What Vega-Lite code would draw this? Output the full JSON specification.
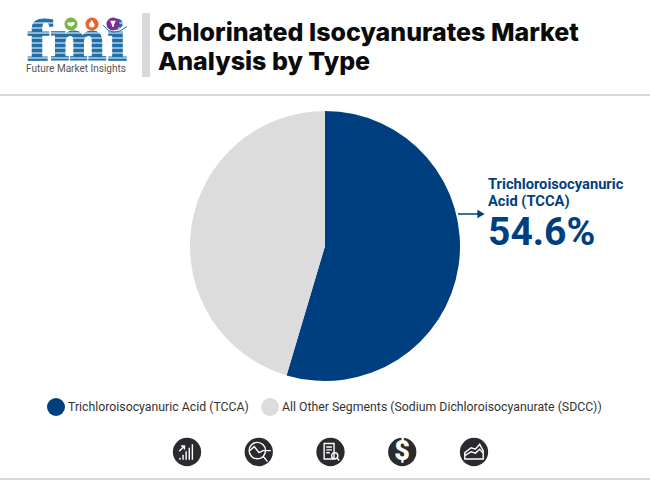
{
  "$schema": "https://vega.github.io/schema/vega-lite/v6.json",
  "width": 650,
  "height": 300,
  "autosize": "none",
  "padding": {"top": 96, "bottom": 84, "left": 0, "right": 0},
  "background": "white",
  "view": {"stroke": null},
  "title": {
    "text": ["Chlorinated Isocyanurates Market", "Analysis by Type"],
    "anchor": "start",
    "frame": "group",
    "dx": 158,
    "offset": -77.5,
    "font": "Inter",
    "fontSize": 25,
    "fontWeight": 800,
    "lineHeight": 29,
    "color": "#0b0b0b"
  },
  "datasets": {
    "segments": [
      {"segment": "Trichloroisocyanuric Acid (TCCA)", "share": 54.6},
      {"segment": "All Other Segments (Sodium Dichloroisocyanurate (SDCC))", "share": 45.4}
    ],
    "callout": [
      {"line": "name1", "text": "Trichloroisocyanuric"},
      {"line": "name2", "text": "Acid (TCCA)"}
    ],
    "callout_value": [{"line": "value", "text": "54.6%"}],
    "arrow": [{"end": "pie", "row": "arrow"}, {"end": "head", "row": "arrow"}],
    "rules": [{"rule": "top"}, {"rule": "bottom"}],
    "divider": [{"end": "a", "col": "bar"}, {"end": "b", "col": "bar"}],
    "logo_dots": [{"dot": "green"}, {"dot": "orange"}, {"dot": "purple"}],
    "logo_stripes": [{"s": "1"}, {"s": "2"}, {"s": "3"}, {"s": "4"}, {"s": "5"}, {"s": "6"}, {"s": "7"}, {"s": "8"}],
    "icons": [{"icon": "growth"}, {"icon": "scan"}, {"icon": "report"}, {"icon": "dollar"}, {"icon": "area"}]
  },
  "data": {"name": "segments"},
  "resolve": {"scale": {"x": "independent", "y": "independent", "color": "independent", "shape": "independent"}},
  "layer": [
    {
      "mark": {"type": "arc", "outerRadius": 135},
      "encoding": {
        "theta": {"field": "share", "type": "quantitative", "stack": true},
        "order": {"field": "share", "sort": "descending"},
        "color": {
          "field": "segment",
          "type": "nominal",
          "scale": {
            "domain": ["Trichloroisocyanuric Acid (TCCA)", "All Other Segments (Sodium Dichloroisocyanurate (SDCC))"],
            "range": ["#003f7f", "#dcdcdc"]
          },
          "legend": {
            "orient": "none",
            "legendX": 47,
            "legendY": 302,
            "direction": "horizontal",
            "title": null,
            "symbolType": "circle",
            "symbolSize": 324,
            "symbolStrokeWidth": 0,
            "labelFont": "Roboto",
            "labelFontSize": 12.3,
            "labelColor": "#333333",
            "labelLimit": 400,
            "columnPadding": 12,
            "labelOffset": 3
          }
        }
      }
    },
    {
      "data": {"name": "callout"},
      "mark": {"type": "text", "align": "left", "font": "Roboto", "fontSize": 14.7, "fontWeight": 700, "color": "#003f7f"},
      "encoding": {
        "x": {"datum": "callout", "type": "nominal", "scale": {"domain": ["callout"], "range": [488, 488], "padding": 0}, "axis": null},
        "y": {"field": "line", "type": "nominal", "scale": {"domain": ["name1", "name2"], "range": [89, 106], "padding": 0}, "axis": null},
        "text": {"field": "text"}
      }
    },
    {
      "data": {"name": "callout_value"},
      "mark": {"type": "text", "align": "left", "font": "Roboto", "fontSize": 39, "fontWeight": 700, "color": "#003f7f"},
      "encoding": {
        "x": {"datum": "callout", "type": "nominal", "scale": {"domain": ["callout"], "range": [488, 488], "padding": 0}, "axis": null},
        "y": {"field": "line", "type": "nominal", "scale": {"domain": ["value"], "range": [137, 137], "padding": 0}, "axis": null},
        "text": {"field": "text"}
      }
    },
    {
      "data": {"name": "arrow"},
      "mark": {"type": "line", "color": "#003f7f", "strokeWidth": 1.5},
      "encoding": {
        "x": {"field": "end", "type": "nominal", "scale": {"domain": ["pie", "head"], "range": [458, 480], "padding": 0}, "axis": null},
        "y": {"field": "row", "type": "nominal", "scale": {"domain": ["arrow"], "range": [118, 118], "padding": 0}, "axis": null}
      }
    },
    {
      "data": {"name": "arrow"},
      "transform": [{"filter": "datum.end === 'head'"}],
      "mark": {"type": "point", "shape": "triangle-right", "filled": true, "size": 70, "color": "#003f7f", "opacity": 1},
      "encoding": {
        "x": {"field": "end", "type": "nominal", "scale": {"domain": ["head"], "range": [481, 481], "padding": 0}, "axis": null},
        "y": {"field": "row", "type": "nominal", "scale": {"domain": ["arrow"], "range": [118, 118], "padding": 0}, "axis": null}
      }
    },
    {
      "data": {"name": "rules"},
      "mark": {"type": "rule", "color": "#d9d9d9", "strokeWidth": 2},
      "encoding": {
        "y": {"field": "rule", "type": "nominal", "scale": {"type": "point", "domain": ["top", "bottom"], "range": [-1, 383], "padding": 0}, "axis": null}
      }
    },
    {
      "data": {"name": "divider"},
      "mark": {"type": "line", "color": "#d9d9d9", "strokeWidth": 8, "strokeCap": "butt"},
      "encoding": {
        "x": {"field": "col", "type": "nominal", "scale": {"domain": ["bar"], "range": [146, 146], "padding": 0}, "axis": null},
        "y": {"field": "end", "type": "nominal", "scale": {"domain": ["a", "b"], "range": [-83, -19], "padding": 0}, "axis": null}
      }
    },
    {
      "data": {"values": [{"text": "fmi"}]},
      "mark": {"type": "text", "align": "center", "baseline": "alphabetic", "font": "DejaVu Serif", "fontSize": 54, "fontWeight": 700, "color": "#1f6fa8", "stroke": "#1f6fa8", "strokeWidth": 1.2},
      "encoding": {
        "x": {"field": "text", "type": "nominal", "scale": {"domain": ["fmi"], "range": [77, 77], "padding": 0}, "axis": null},
        "y": {"field": "text", "type": "nominal", "scale": {"domain": ["fmi"], "range": [-36, -36], "padding": 0}, "axis": null},
        "text": {"field": "text"}
      }
    },
    {
      "data": {"name": "logo_stripes"},
      "mark": {"type": "rule", "color": "white", "strokeWidth": 1},
      "encoding": {
        "x": {"datum": "l", "type": "nominal", "scale": {"type": "point", "domain": ["l", "r"], "range": [24, 130], "padding": 0}, "axis": null},
        "x2": {"datum": "r"},
        "y": {"field": "s", "type": "nominal", "scale": {"type": "point", "domain": ["1", "2", "3", "4", "5", "6", "7", "8"], "range": [-73, -38], "padding": 0}, "axis": null}
      }
    },
    {
      "data": {"values": [{"text": "Future Market Insights"}]},
      "mark": {"type": "text", "align": "center", "font": "Roboto", "fontSize": 10, "color": "#555555"},
      "encoding": {
        "x": {"field": "text", "type": "nominal", "scale": {"domain": ["Future Market Insights"], "range": [76, 76], "padding": 0}, "axis": null},
        "y": {"field": "text", "type": "nominal", "scale": {"domain": ["Future Market Insights"], "range": [-27, -27], "padding": 0}, "axis": null},
        "text": {"field": "text"}
      }
    },
    {
      "data": {"values": [{"part": "swoosh"}]},
      "mark": {"type": "point", "filled": false, "size": 784, "stroke": "#1f6fa8", "strokeWidth": 1, "opacity": 1, "shape": "M-.85-.2Q-.2.75.85-.1"},
      "encoding": {
        "x": {"field": "part", "type": "nominal", "scale": {"domain": ["swoosh"], "range": [115, 115], "padding": 0}, "axis": null},
        "y": {"field": "part", "type": "nominal", "scale": {"domain": ["swoosh"], "range": [-68, -68], "padding": 0}, "axis": null}
      }
    },
    {
      "data": {"name": "logo_dots"},
      "mark": {"type": "point", "filled": true, "shape": "circle", "size": 170, "opacity": 1},
      "encoding": {
        "x": {"field": "dot", "type": "nominal", "scale": {"domain": ["green", "orange", "purple"], "range": [71, 113], "padding": 0}, "axis": null},
        "y": {"datum": "dots", "type": "nominal", "scale": {"domain": ["dots"], "range": [-72, -72], "padding": 0}, "axis": null},
        "color": {"field": "dot", "type": "nominal", "scale": {"domain": ["green", "orange", "purple"], "range": ["#7ab648", "#e8632a", "#7d2e8e"]}, "legend": null}
      }
    },
    {
      "data": {"name": "logo_dots"},
      "mark": {"type": "point", "filled": true, "size": 64, "color": "white", "opacity": 1},
      "encoding": {
        "x": {"field": "dot", "type": "nominal", "scale": {"domain": ["green", "orange", "purple"], "range": [71, 113], "padding": 0}, "axis": null},
        "y": {"datum": "dots", "type": "nominal", "scale": {"domain": ["dots"], "range": [-72, -72], "padding": 0}, "axis": null},
        "shape": {
          "field": "dot",
          "type": "nominal",
          "scale": {
            "domain": ["green", "orange", "purple"],
            "range": ["M-1-.3L.9-.5L.8.1L.1.7L-.7.3Z", "M0-1L.7.3L.3.9L-.6.8L-.8 0Z", "M-.7-.8H.7L.3.1L.2.7H-.2L-.3.1Z"]
          },
          "legend": null
        }
      }
    },
    {
      "data": {"name": "icons"},
      "mark": {"type": "point", "filled": true, "shape": "circle", "size": 800, "color": "#2b2b2f", "opacity": 1},
      "encoding": {
        "x": {"field": "icon", "type": "nominal", "scale": {"domain": ["growth", "scan", "report", "dollar", "area"], "range": [187, 474], "padding": 0}, "axis": null},
        "y": {"datum": "icons", "type": "nominal", "scale": {"domain": ["icons"], "range": [356, 356], "padding": 0}, "axis": null}
      }
    },
    {
      "data": {"name": "icons"},
      "mark": {"type": "point", "filled": false, "size": 800, "stroke": "white", "strokeWidth": 1.4, "opacity": 1},
      "encoding": {
        "x": {"field": "icon", "type": "nominal", "scale": {"domain": ["growth", "scan", "report", "dollar", "area"], "range": [187, 474], "padding": 0}, "axis": null},
        "y": {"datum": "icons", "type": "nominal", "scale": {"domain": ["icons"], "range": [356, 356], "padding": 0}, "axis": null},
        "shape": {
          "field": "icon",
          "type": "nominal",
          "scale": {
            "domain": ["growth", "scan", "report", "dollar", "area"],
            "range": [
              "M-.5.55V.4M-.28.55V.2M-.06.55V-.05M.16.55V-.3M.38.55V-.55M-.55-.05L-.18-.42M-.42-.42H-.18V-.18",
              "M-.1-.68A.58.58 0 1 0-.1.48A.58.58 0 1 0-.1-.68M-.62-.1L-.32-.38L.02.05L.3-.1H.85M.32.32L.62.68",
              "M-.45-.6H.25V.5H-.45ZM-.3-.35H.1M-.3-.15H.1M-.3.05H-.05M.3.05A.22.22 0 1 0 .3.49A.22.22 0 1 0 .3.05M.45.42L.62.6",
              "M0 0",
              "M-.65.5H.65V-.1L.4-.55L.1-.2L-.2-.3L-.65.05ZM-.65.25L-.2-.02L.1.08L.4-.2L.65.1"
            ]
          },
          "legend": null
        }
      }
    },
    {
      "data": {"values": [{"text": "$"}]},
      "mark": {"type": "text", "font": "Roboto", "fontSize": 27, "fontWeight": 900, "color": "white"},
      "encoding": {
        "x": {"field": "text", "type": "nominal", "scale": {"domain": ["$"], "range": [402, 402], "padding": 0}, "axis": null},
        "y": {"field": "text", "type": "nominal", "scale": {"domain": ["$"], "range": [356, 356], "padding": 0}, "axis": null},
        "text": {"field": "text"}
      }
    }
  ]
}
